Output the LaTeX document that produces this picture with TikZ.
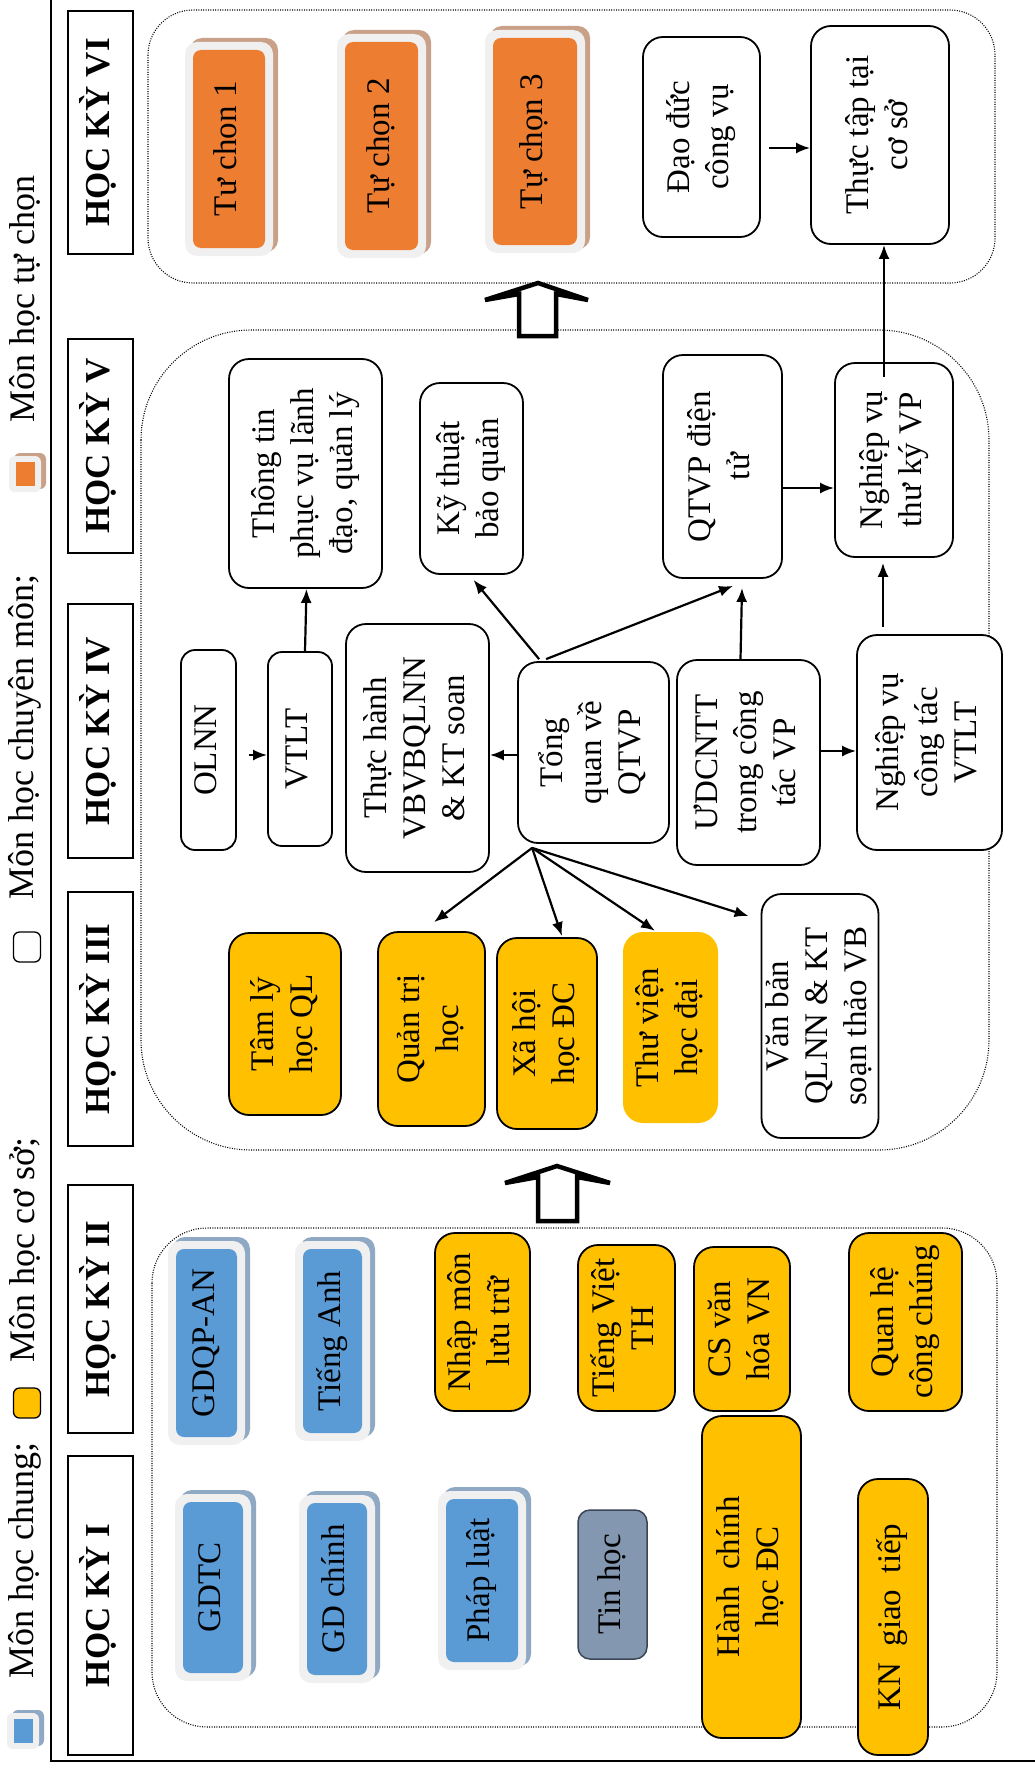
\documentclass[tikz,border=0pt]{standalone}
\usepackage{fontspec}
\setmainfont{Liberation Serif}
\usepackage{graphicx}
\usetikzlibrary{arrows.meta,calc}
\definecolor{blu}{HTML}{5B9BD5}
\definecolor{blush}{HTML}{8FA8C4}
\definecolor{org}{HTML}{ED7D31}
\definecolor{orgsh}{HTML}{C9A188}
\definecolor{lightg}{HTML}{F0F0F0}
\definecolor{yel}{HTML}{FFC000}
\definecolor{tinc}{HTML}{8497B0}
\definecolor{tinbd}{HTML}{3A4656}
\newcommand\vtext[1]{\rotatebox{90}{\begin{tabular}{@{}c@{}}#1\end{tabular}}}
\newcommand\fbx[7]{%
 \fill[#6sh, rounded corners=12pt] ({#2-#4/2-8+5},{#3-#5/2-8-4}) rectangle ({#2+#4/2+8+5},{#3+#5/2+8-4});
 \fill[lightg, rounded corners=12pt] ({#2-#4/2-8},{#3-#5/2-8}) rectangle ({#2+#4/2+8},{#3+#5/2+8});
 \node[fill=#6, rounded corners=8pt, inner sep=0pt, sz={#4}{#5}] (#1) at (#2,#3) {\vtext{#7}};}
\begin{document}
\begin{tikzpicture}[x=1pt,y=-1pt,
  font=\fontsize{33}{39}\selectfont,
  sz/.style 2 args={minimum width=#1pt, minimum height=#2pt},
  wbox/.style={draw, line width=1.8pt, rounded corners=20pt, fill=white, inner sep=0pt},
  ybox/.style={wbox, fill=yel},
  hbox/.style={draw, line width=1.8pt, fill=white, inner sep=0pt, font=\fontsize{35}{40}\selectfont\bfseries},
  legtext/.style={inner sep=0pt, font=\fontsize{36}{40}\selectfont},
  arr/.style={-{Latex[length=14pt,width=11pt]}, line width=2.2pt},
  cont/.style={draw=black, line width=1.1pt, dash pattern=on 1pt off 1.4pt},
  bigarr/.style={draw, line width=4.5pt, fill=white}]
\useasboundingbox (0,0) rectangle (1035,1769);
\fill[white] (0,0) rectangle (1035,1769);

% frame
\draw[line width=2pt] (51,0) -- (51,1761) -- (1035,1761);

% legend
\fill[orgsh, rounded corners=6pt] (14,453) rectangle (46,489);
\fill[lightg, rounded corners=6pt] (9,456) rectangle (41,492);
\node[fill=org, inner sep=0pt, sz={19}{24}] (iorg) at (25,474) {};
\node[legtext] (l4) at (25,299) {\rotatebox{90}{Môn học tự chọn}};
\node[legtext] (l3) at (25,737) {\rotatebox{90}{Môn học chuyên môn;}};
\node[draw, line width=1.3pt, rounded corners=6pt, fill=white, sz={27}{30}] (iwht) at (27,947) {};
\node[legtext] (l2) at (25,1250) {\rotatebox{90}{Môn học cơ sở;}};
\node[draw, line width=1.3pt, rounded corners=6pt, fill=yel, sz={27}{30}] (iyel) at (27,1403) {};
\node[legtext] (l1) at (25,1560) {\rotatebox{90}{Môn học chung;}};
\fill[blush, rounded corners=6pt] (12,1710) rectangle (44,1746);
\fill[lightg, rounded corners=6pt] (7,1713) rectangle (39,1749);
\node[fill=blu, inner sep=0pt, sz={19}{24}] (iblu) at (23,1731) {};

% containers
\draw[cont, rounded corners=45pt] (148,10) rectangle (995,283);
\draw[cont, rounded corners=110pt] (141,330) rectangle (989,1150);
\draw[cont, rounded corners=55pt] (152,1228) rectangle (997,1727);

% headers
\node[hbox, sz={65}{243}] (h6) at (100.5,132.5) {\vtext{HỌC KỲ VI}};
\node[hbox, sz={65}{214}] (h5) at (100.5,446) {\vtext{HỌC KỲ V}};
\node[hbox, sz={65}{254}] (h4) at (100.5,731) {\vtext{HỌC KỲ IV}};
\node[hbox, sz={65}{254}] (h3) at (100.5,1019) {\vtext{HỌC KỲ III}};
\node[hbox, sz={65}{248}] (h2) at (100.5,1309) {\vtext{HỌC KỲ II}};
\node[hbox, sz={65}{299}] (h1) at (100.5,1605.5) {\vtext{HỌC KỲ I}};

% semester VI
\fbx{tc1}{229}{149}{72}{198}{org}{Tư chon 1}
\fbx{tc2}{381.5}{146}{73}{208}{org}{Tự chọn 2}
\fbx{tc3}{535}{141.5}{84}{207}{org}{Tự chọn 3}
\node[wbox, sz={117}{200}] (dd) at (701.5,137) {\vtext{Đạo đức\\công vụ}};
\node[wbox, sz={138}{218}] (tt) at (880,135) {\vtext{Thực tập tại\\cơ sở}};

% semester V
\node[wbox, sz={153}{229}] (ttin) at (305.5,473.5) {\vtext{Thông tin\\phục vụ lãnh\\đạo, quản lý}};
\node[wbox, sz={103}{191}] (ktbq) at (471.5,478.5) {\vtext{Kỹ thuật\\bảo quản}};
\node[wbox, sz={119}{223}] (qtvpdt) at (722.5,466.5) {\vtext{QTVP điện\\tử}};
\node[wbox, sz={118}{194}] (nvtk) at (894,460) {\vtext{Nghiệp vụ\\thư ký VP}};

% semester IV
\node[wbox, sz={55}{200}, rounded corners=14pt] (olnn) at (208.5,750) {\vtext{OLNN}};
\node[wbox, sz={64}{194}, rounded corners=14pt] (vtlt) at (300,749) {\vtext{VTLT}};
\node[wbox, sz={143}{248}] (thvb) at (417.5,748) {\vtext{Thực hành\\VBVBQLNN\\\& KT soan}};
\node[wbox, sz={151}{181}] (tong) at (593.5,752.5) {\vtext{Tổng\\quan về\\QTVP}};
\node[wbox, sz={143}{205}] (udcntt) at (748.5,762.5) {\vtext{ƯDCNTT\\trong công\\tác VP}};
\node[wbox, sz={145}{215}] (nvct) at (929.5,742.5) {\vtext{Nghiệp vụ\\công tác\\VTLT}};

% semester III
\node[ybox, sz={112}{182}] (tlql) at (285,1024) {\vtext{Tâm lý\\học QL}};
\node[ybox, sz={107}{194}] (qth) at (431.5,1029) {\vtext{Quản trị\\học}};
\node[ybox, sz={100}{191}] (xhh) at (547,1033.5) {\vtext{Xã hội\\học ĐC}};
\node[fill=yel, rounded corners=20pt, inner sep=0pt, sz={95}{191}] (tvh) at (670.5,1027.5) {\vtext{Thư viện\\học đại}};
\node[wbox, sz={116}{244}] (vbql) at (820,1016) {\vtext{Văn bản\\QLNN \& KT\\soạn thảo VB}};

% semester II
\fbx{gdqp}{206.5}{1343}{61}{188}{blu}{GDQP-AN}
\fbx{ta}{332.5}{1341}{59}{184}{blu}{Tiếng Anh}
\node[ybox, sz={95}{178}] (nmlt) at (482.5,1322) {\vtext{Nhập môn\\lưu trữ}};
\node[ybox, sz={97}{166}] (tvth) at (626.5,1328) {\vtext{Tiếng Việt\\TH}};
\node[ybox, sz={96}{164}] (csvh) at (742,1329) {\vtext{CS văn\\hóa VN}};
\node[ybox, sz={113}{178}] (qhcc) at (905.5,1322) {\vtext{Quan hệ\\công chúng}};

% semester I
\fbx{gdtc}{213}{1587.5}{60}{171}{blu}{GDTC}
\fbx{gdc}{337}{1589}{60}{172}{blu}{GD chính}
\fbx{pl}{482}{1580.5}{72}{163}{blu}{Pháp luật}
\node[draw=tinbd, line width=1.5pt, fill=tinc, rounded corners=12pt, inner sep=0pt, sz={69}{149}] (tin) at (612.5,1584.5) {\vtext{Tin học}};
\node[ybox, sz={99}{322}] (hc) at (751.5,1577) {\vtext{Hành\ \ chính\\học ĐC}};
\node[ybox, sz={70}{276}] (kn) at (893,1617) {\vtext{KN\ \ giao\ \ tiếp}};

% big arrows
\draw[bigarr] (538,1221) -- (538,1177) -- (505,1183) -- (557,1166) -- (610,1183) -- (577,1177) -- (577,1221) -- cycle;
\draw[bigarr] (519,336) -- (519,294) -- (485,300) -- (538,283) -- (588,300) -- (556,294) -- (556,336) -- cycle;

% connectors
\draw[arr] ($(olnn.east)+(12,5)$) -- ($(vtlt.west)+(0,6)$);
\draw[arr] ($(vtlt.north)+(5,0)$) -- ($(ttin.south)+(1,0)$);
\draw[arr] ($(tong.west)+(0,2.5)$) -- ($(thvb.east)+(0,7)$);
\draw[arr] ($(tong.north west)+(22,-2)$) -- ($(ktbq.south)+(2,5)$);
\draw[arr] ($(tong.north west)+(29,-2)$) -- ($(qtvpdt.south)+(10.5,7)$);
\draw[arr] ($(udcntt.north)+(-8,0)$) -- ($(qtvpdt.south)+(19.5,9)$);
\draw[arr] ($(udcntt.east)+(0,-11.5)$) -- ($(nvct.west)+(0,8.5)$);
\draw[arr] ($(nvct.north)+(-46.5,-7)$) -- ($(nvtk.south)+(-11,5)$);
\draw[arr] ($(qtvpdt.east)+(0,21.5)$) -- ($(nvtk.west)+(0,28)$);
\draw[arr] ($(nvtk.north)+(-10,15)$) -- ($(tt.south)+(4,0)$);
\draw[arr] ($(dd.east)+(8,11)$) -- ($(tt.west)+(0,13)$);
\coordinate (fan) at ($(tong.south west)+(15,4)$);
\draw[arr] (fan) -- ($(qth.north)+(2.5,-9)$);
\draw[arr] (fan) -- ($(xhh.north)+(15,-1)$);
\draw[arr] (fan) -- ($(tvh.north)+(-15.5,-1)$);
\draw[arr] (fan) -- ($(vbql.north west)+(-12,23)$);
\end{tikzpicture}
\end{document}
